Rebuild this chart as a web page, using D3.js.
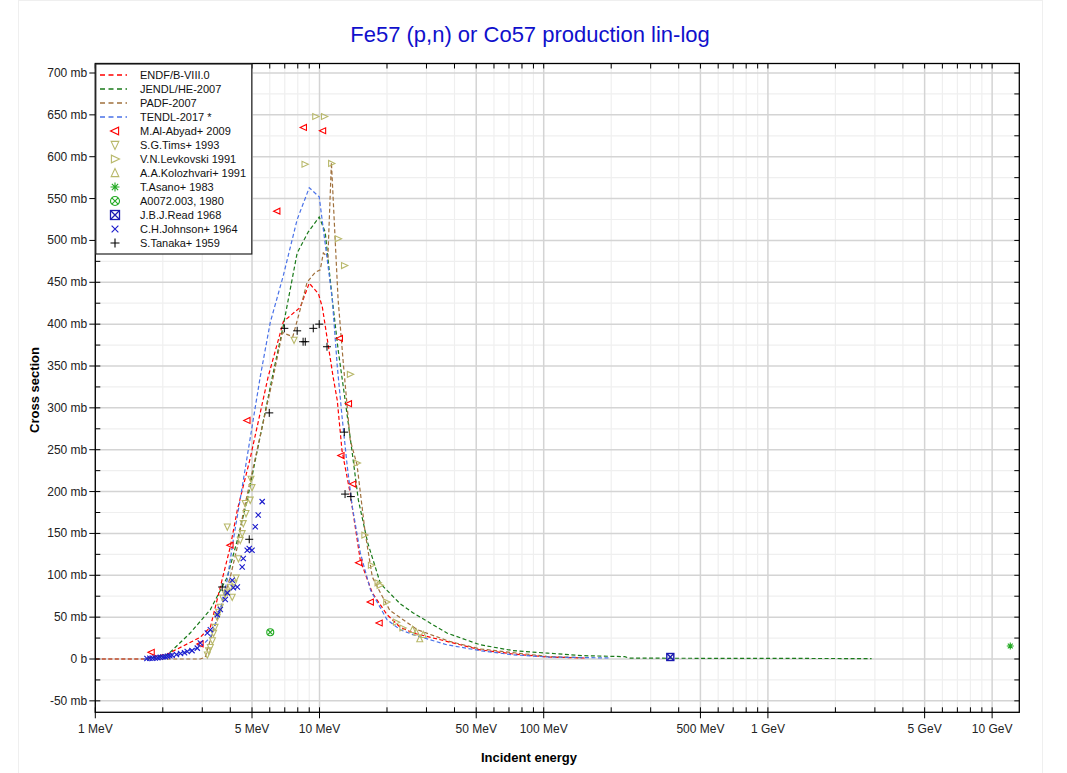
<!DOCTYPE html>
<html><head><meta charset="utf-8">
<script src="https://cdn.jsdelivr.net/npm/d3@7"></script>
<style>body{margin:0;background:#fff;} svg{display:block;font-family:"Liberation Sans",Arial,sans-serif;}</style>
</head><body>
<svg id="chart" width="1067" height="773"></svg>
<script>
// ---------- DATA ----------
const title = "Fe57 (p,n) or Co57 production lin-log";
const xTickValues = [1, 5, 10, 50, 100, 500, 1000, 5000, 10000];
const xTickLabels = ["1 MeV", "5 MeV", "10 MeV", "50 MeV", "100 MeV", "500 MeV", "1 GeV", "5 GeV", "10 GeV"];
const yTickValues = [-50, 0, 50, 100, 150, 200, 250, 300, 350, 400, 450, 500, 550, 600, 650, 700];
const yTickLabels = ["-50 mb", "0 b", "50 mb", "100 mb", "150 mb", "200 mb", "250 mb", "300 mb", "350 mb", "400 mb", "450 mb", "500 mb", "550 mb", "600 mb", "650 mb", "700 mb"];

// evaluated curves [MeV, mb]
const endfB8 = [[1,0],[1.67,0],[1.76,2],[2.1,6],[2.94,26],[3.26,38],[3.61,86],[4.0,134],[4.3,178],[4.91,240],[5.9,337],[6.9,403],[8.2,420],[9.0,449],[9.9,436],[10.3,420],[11.5,337],[12.0,309],[12.6,249],[13.7,198],[15.2,118],[17.2,79],[20.0,53],[22.9,38],[26.2,31],[38.3,20],[52,11],[73,6],[104,2.4],[153,1.2]];
const jendlHE = [[1.67,0],[2.1,5],[2.65,31],[3.26,59],[3.88,98],[4.3,142],[4.76,190],[6.16,337],[6.88,397],[7.95,485],[8.9,510],[9.97,528],[10.6,510],[11.4,430],[12.1,370],[13.0,310],[14.0,246],[14.9,190],[16.4,139],[18.7,90],[22.9,66],[26.2,55],[37,31],[52,17],[73,10],[104,7],[150,4],[230,2.8],[240,1],[2900,0.5]];
const padf2007 = [[1,0],[2.94,0],[3.09,2],[3.26,23],[3.61,59],[4.0,98],[4.3,134],[4.57,175],[6.22,337],[6.83,390],[7.6,385],[8.21,418],[8.8,450],[9.58,462],[10.08,465],[10.4,485],[10.9,480],[11.3,593],[11.7,510],[12.1,430],[12.8,350],[13.7,262],[14.7,232],[16.0,150],[17.2,98],[18.7,79],[20.6,58],[27.3,35],[38,21],[52,12],[104,3],[150,1.5]];
const tendl2017 = [[1.64,0],[2.16,3],[2.94,14],[3.26,26],[3.61,59],[3.88,95],[4.13,143],[4.43,191],[5.44,337],[6.03,402],[6.88,457],[7.95,525],[9.0,563],[9.97,552],[11.4,430],[12.0,350],[12.6,290],[13.3,230],[14.0,182],[15.2,127],[16.9,82],[20.0,47],[22.9,35],[26.2,29],[37,17],[52,10],[73,5],[104,2.4],[197,1.2]];

// experimental points [MeV, mb]
const alAbyad2009 = [[1.78,8],[2.94,18],[4.0,136],[4.76,285],[6.47,535],[8.5,635],[10.35,631],[12.3,383],[13.5,305],[12.5,243],[14.1,209],[15.0,115],[16.9,68],[18.5,43]];
const tims1993 = [[3.16,5],[3.2,10],[3.26,14],[3.33,22],[3.37,31],[3.42,38],[3.5,50],[3.55,56],[3.61,62],[3.7,73],[3.8,78],[3.88,80],[4.0,86],[4.08,74],[4.15,90],[4.25,97],[4.35,120],[4.43,142],[4.52,150],[4.57,162],[4.7,174],[4.66,186],[4.91,190],[5.0,205],[4.95,215],[3.88,158],[7.7,381]];
const levkovski1991 = [[8.6,591],[9.6,648],[10.5,648],[11.3,592],[12.1,502],[12.9,470],[13.7,340],[14.7,234],[15.9,148],[17.0,112],[18.2,91],[18.6,88],[19.9,68],[22.0,44],[23.5,37]];
const kolozhvari1991 = [[26,35],[27,32],[29,29],[28,24]];
const asano1983 = [[12050,15.5]];
const a0072_1980 = [[6.03,32]];
const read1968 = [[367,2.4]];
const johnson1964 = [[1.7,0.5],[1.75,0.8],[1.8,1],[1.85,1.2],[1.9,1.5],[1.95,2],[2.0,2.3],[2.05,2.8],[2.1,3.3],[2.15,3.8],[2.2,4.5],[2.3,5.5],[2.4,6.5],[2.5,7.5],[2.57,9],[2.7,10],[2.85,13],[2.94,19],[3.16,31],[3.26,35],[3.5,53],[3.61,59],[3.8,71],[3.88,79],[4.08,94],[4.13,85],[4.3,86],[4.52,110],[4.57,120],[4.76,130],[4.86,132],[5.0,130],[5.17,158],[5.33,172],[5.55,188]];
const tanaka1959 = [[3.68,86],[4.86,143],[5.97,294],[6.97,395],[7.95,392],[8.45,379],[8.64,379],[9.38,395],[9.97,400],[10.8,373],[12.9,271],[13.0,197],[13.8,194]];

const curveNames = ["ENDF/B-VIII.0", "JENDL/HE-2007", "PADF-2007", "TENDL-2017 *"];
const curveColors = ["#ff0000", "#1a7a1a", "#a0703c", "#4a72e8"];
const pointNames = ["M.Al-Abyad+ 2009", "S.G.Tims+ 1993", "V.N.Levkovski 1991", "A.A.Kolozhvari+ 1991", "T.Asano+ 1983", "A0072.003, 1980", "J.B.J.Read 1968", "C.H.Johnson+ 1964", "S.Tanaka+ 1959"];
const pointColors = ["#ff0000", "#b8b86a", "#b8b86a", "#b8b86a", "#22aa22", "#22aa22", "#1a1ab0", "#1a1acc", "#000000"];
const pointShapes = ["triLeft", "triDown", "triRight", "triUp", "asterisk", "circleX", "squareX", "cross", "plus"];

// ---------- LAYOUT ----------
const svg = d3.select("#chart");
const L = 95.3, R = 1019.3, T = 63.5, B = 712.3;
const x = d3.scaleLog().domain([1, 13220]).range([L, R]);
const y = d3.scaleLinear().domain([0, 700]).range([659, 73]);

// frame
svg.append("rect").attr("x", 18.5).attr("y", 0.5).attr("width", 1024).attr("height", 780)
  .attr("fill", "none").attr("stroke", "#efefef");

// title
svg.append("text").attr("x", 530).attr("y", 42).attr("text-anchor", "middle")
  .attr("font-size", 22).attr("fill", "#1010cc").text(title);

// grid
const g = svg.append("g");
const minorX = [], majorX = [];
for (let d = 1; d <= 10000; d *= 10) {
  for (let m = 1; m <= 9; m++) {
    const v = d * m;
    if (v > 13220) continue;
    if (m === 1 || m === 5) majorX.push(v); else minorX.push(v);
  }
}
const minorY = d3.range(-50, 725, 25).filter(v => v % 50 !== 0);
const majorY = d3.range(-50, 725, 50);
g.selectAll(".gmx").data(minorX).join("line").attr("x1", d => x(d)).attr("x2", d => x(d))
  .attr("y1", T).attr("y2", B).attr("stroke", "#efefef").attr("stroke-width", 1.2);
g.selectAll(".gmy").data(minorY).join("line").attr("y1", d => y(d)).attr("y2", d => y(d))
  .attr("x1", L).attr("x2", R).attr("stroke", "#efefef").attr("stroke-width", 1.2);
g.selectAll(".gMx").data(majorX).join("line").attr("x1", d => x(d)).attr("x2", d => x(d))
  .attr("y1", T).attr("y2", B).attr("stroke", "#d4d4d4").attr("stroke-width", 1.5);
g.selectAll(".gMy").data(majorY).join("line").attr("y1", d => y(d)).attr("y2", d => y(d))
  .attr("x1", L).attr("x2", R).attr("stroke", "#d4d4d4").attr("stroke-width", 1.5);

// clip
svg.append("clipPath").attr("id", "clip").append("rect")
  .attr("x", L).attr("y", T).attr("width", R - L).attr("height", B - T);
const plot = svg.append("g").attr("clip-path", "url(#clip)");

// curves
const lineGen = d3.line().x(d => x(d[0])).y(d => y(d[1]));
[endfB8, jendlHE, padf2007, tendl2017].forEach((c, i) => {
  plot.append("path").datum(c).attr("d", lineGen).attr("fill", "none")
    .attr("stroke", curveColors[i]).attr("stroke-width", 1.2).attr("stroke-dasharray", "4,2.5");
});

// symbols
function drawSymbol(sel, shape, color, cx, cy, s) {
  const gg = sel.append("g").attr("transform", `translate(${cx},${cy})`)
    .attr("fill", "none").attr("stroke", color).attr("stroke-width", 1.1);
  const r = s;
  if (shape === "triLeft") gg.append("path").attr("d", `M${-r},0L${r*0.8},${-r*0.85}L${r*0.8},${r*0.85}Z`);
  else if (shape === "triRight") gg.append("path").attr("d", `M${r},0L${-r*0.8},${-r*0.85}L${-r*0.8},${r*0.85}Z`);
  else if (shape === "triDown") gg.append("path").attr("d", `M0,${r}L${-r*0.85},${-r*0.8}L${r*0.85},${-r*0.8}Z`);
  else if (shape === "triUp") gg.append("path").attr("d", `M0,${-r}L${-r*0.85},${r*0.8}L${r*0.85},${r*0.8}Z`);
  else if (shape === "asterisk") {
    gg.append("path").attr("d", `M${-r},0H${r}M0,${-r}V${r}M${-r*0.7},${-r*0.7}L${r*0.7},${r*0.7}M${-r*0.7},${r*0.7}L${r*0.7},${-r*0.7}`);
  } else if (shape === "circleX") {
    gg.append("circle").attr("r", r);
    gg.append("path").attr("d", `M${-r*0.7},${-r*0.7}L${r*0.7},${r*0.7}M${-r*0.7},${r*0.7}L${r*0.7},${-r*0.7}`);
  } else if (shape === "squareX") {
    gg.append("rect").attr("x", -r).attr("y", -r).attr("width", 2*r).attr("height", 2*r);
    gg.append("path").attr("d", `M${-r},${-r}L${r},${r}M${-r},${r}L${r},${-r}`);
  } else if (shape === "cross") {
    gg.append("path").attr("d", `M${-r*0.75},${-r*0.75}L${r*0.75},${r*0.75}M${-r*0.75},${r*0.75}L${r*0.75},${-r*0.75}`);
  } else if (shape === "plus") {
    gg.append("path").attr("d", `M${-r},0H${r}M0,${-r}V${r}`);
  }
  return gg;
}
const pointSets = [alAbyad2009, tims1993, levkovski1991, kolozhvari1991, asano1983, a0072_1980, read1968, johnson1964, tanaka1959];
pointSets.forEach((set, i) => {
  set.forEach(d => {
    const gg = drawSymbol(plot, pointShapes[i], pointColors[i], x(d[0]), y(d[1]), i === 8 ? 4 : 3.5);
    if (pointShapes[i] === "squareX") gg.attr("stroke-width", 1.4);
    if (pointShapes[i] === "plus") gg.attr("stroke-width", 1);
  });
});

// axes box
svg.append("rect").attr("x", L).attr("y", T).attr("width", R - L).attr("height", B - T)
  .attr("fill", "none").attr("stroke", "#000").attr("stroke-width", 1.3);

// x ticks
const ax = svg.append("g");
majorX.forEach(v => {
  ax.append("line").attr("x1", x(v)).attr("x2", x(v)).attr("y1", B - 5).attr("y2", B + 6).attr("stroke", "#000");
  ax.append("line").attr("x1", x(v)).attr("x2", x(v)).attr("y1", T).attr("y2", T + 5).attr("stroke", "#000");
});
minorX.forEach(v => {
  ax.append("line").attr("x1", x(v)).attr("x2", x(v)).attr("y1", B - 5).attr("y2", B).attr("stroke", "#000");
  ax.append("line").attr("x1", x(v)).attr("x2", x(v)).attr("y1", T).attr("y2", T + 5).attr("stroke", "#000");
});
xTickValues.forEach((v, i) => {
  ax.append("text").attr("x", x(v)).attr("y", 733).attr("text-anchor", "middle")
    .attr("font-size", 12).attr("fill", "#222").text(xTickLabels[i]);
});
// y ticks
majorY.forEach(v => {
  ax.append("line").attr("y1", y(v)).attr("y2", y(v)).attr("x1", L - 6).attr("x2", L + 5).attr("stroke", "#000");
  ax.append("line").attr("y1", y(v)).attr("y2", y(v)).attr("x1", R - 5).attr("x2", R).attr("stroke", "#000");
});
minorY.forEach(v => {
  ax.append("line").attr("y1", y(v)).attr("y2", y(v)).attr("x1", L).attr("x2", L + 5).attr("stroke", "#000");
  ax.append("line").attr("y1", y(v)).attr("y2", y(v)).attr("x1", R - 5).attr("x2", R).attr("stroke", "#000");
});
yTickValues.forEach((v, i) => {
  ax.append("text").attr("x", L - 8).attr("y", y(v) + 4).attr("text-anchor", "end")
    .attr("font-size", 12).attr("fill", "#222").text(yTickLabels[i]);
});

// axis titles
svg.append("text").attr("x", 529).attr("y", 762).attr("text-anchor", "middle")
  .attr("font-size", 13).attr("font-weight", "bold").text("Incident energy");
svg.append("text").attr("transform", "translate(39,390) rotate(-90)").attr("text-anchor", "middle")
  .attr("font-size", 13).attr("font-weight", "bold").text("Cross section");

// legend
const lg = svg.append("g");
lg.append("rect").attr("x", L + 0.5).attr("y", T + 0.5).attr("width", 156).attr("height", 190)
  .attr("fill", "#fff").attr("stroke", "#222").attr("stroke-width", 1.2);
const rowY = i => 75 + i * 14;
curveNames.forEach((n, i) => {
  lg.append("line").attr("x1", 100).attr("x2", 127).attr("y1", rowY(i)).attr("y2", rowY(i))
    .attr("stroke", curveColors[i]).attr("stroke-width", 1.5).attr("stroke-dasharray", "5,3.5");
  lg.append("text").attr("x", 140).attr("y", rowY(i) + 4).attr("font-size", 11).attr("fill", "#111").text(n);
});
pointNames.forEach((n, j) => {
  const i = j + 4;
  const gg = drawSymbol(lg, pointShapes[j], pointColors[j], 115, rowY(i), 4.5);
  if (pointShapes[j] === "squareX") gg.attr("stroke-width", 1.3);
  lg.append("text").attr("x", 140).attr("y", rowY(i) + 4).attr("font-size", 11).attr("fill", "#111").text(n);
});
</script>
</body></html>
